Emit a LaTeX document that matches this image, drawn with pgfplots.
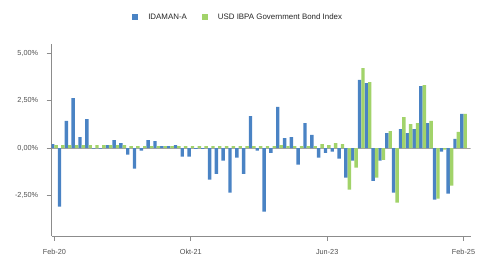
\documentclass[border=0pt]{standalone}
\usepackage{pgfplots}
\usepackage{pgfplotstable}
\pgfplotsset{compat=1.18}
\usepackage{fontspec}
\setmainfont{Liberation Sans}
\definecolor{cblue}{HTML}{4A83C4}
\definecolor{cgreen}{HTML}{A2D36A}
\definecolor{axgray}{HTML}{8C8C8C}
\definecolor{txtgray}{HTML}{505050}
\pgfplotstableread{
x b g
0 0.21 0.15
1 -3.10 0.15
2 1.43 0.15
3 2.64 0.15
4 0.58 0.15
5 1.53 0.15
6 -0.03 0.15
7 -0.03 0.15
8 0.16 0.15
9 0.42 0.15
10 0.26 0.15
11 -0.35 0.10
12 -1.09 0.10
13 -0.14 0.10
14 0.42 0.10
15 0.37 0.10
16 0.10 0.10
17 0.10 0.10
18 0.16 0.10
19 -0.46 0.10
20 -0.46 0.10
21 -0.04 0.10
22 -0.04 0.10
23 -1.67 0.10
24 -1.36 0.10
25 -0.67 0.10
26 -2.36 0.10
27 -0.51 0.10
28 -1.36 0.10
29 1.69 0.10
30 -0.14 0.10
31 -3.36 0.10
32 -0.25 0.10
33 2.17 0.16
34 0.53 0.10
35 0.58 0.10
36 -0.88 0.10
37 1.32 0.10
38 0.69 0.10
39 -0.51 0.21
40 -0.25 0.16
41 -0.19 0.26
42 -0.56 0.21
43 -1.57 -2.20
44 -0.67 -1.04
45 3.60 4.23
46 3.43 3.49
47 -1.73 -1.57
48 -0.67 -0.62
49 0.79 0.90
50 -2.36 -2.89
51 1.00 1.64
52 0.79 1.27
53 1.00 1.32
54 3.27 3.33
55 1.32 1.43
56 -2.73 -2.68
57 -0.19 -0.09
58 -2.41 -1.99
59 0.48 0.85
60 1.80 1.80
}\data
\begin{document}
\begin{tikzpicture}
\useasboundingbox (-51.7pt,-21pt) rectangle (431.3pt,236pt);
\begin{axis}[
  at={(0,0)}, anchor=south west,
  scale only axis, width=419pt, height=192pt,
  xmin=-0.4, xmax=61.05, ymin=-4.65, ymax=5.5,
  axis x line*=bottom, axis y line*=left,
  axis line style={axgray, line width=0.9pt},
  xtick={0,20,40,60}, xticklabels={Feb-20,Okt-21,Jun-23,Feb-25},
  ytick={-2.5,0,2.5,5}, yticklabels={{-2,50\%},{0,00\%},{2,50\%},{5,00\%}},
  tick align=outside, major tick length=5pt,
  tick style={axgray, line width=0.8pt},
  ticklabel style={font=\fontsize{7.3}{9}\selectfont, text=txtgray},
  yticklabel style={xshift=-5pt},
  xticklabel style={yshift=-4.5pt},
  legend style={at={(0.445,1.14)}, anchor=center, legend columns=2, draw=none, fill=none,
    font=\fontsize{7.9}{9}\selectfont, text=black!85,
    /tikz/every even column/.append style={column sep=13pt}},
]
\draw[axgray!80, line width=0.8pt] (axis cs:-0.4,0) -- (axis cs:61.05,0);
\addplot[ybar, bar width=0.5, bar shift=-0.25, fill=cblue, draw=none,
  legend image code/.code={\fill[cblue] (0pt,-3pt) rectangle (6pt,3pt); \path (14pt,0pt);}] table[x=x,y=b]{\data};
\addlegendentry{IDAMAN-A}
\addplot[ybar, bar width=0.5, bar shift=0.25, fill=cgreen, draw=none,
  legend image code/.code={\fill[cgreen] (0pt,-3pt) rectangle (6pt,3pt); \path (14pt,0pt);}] table[x=x,y=g]{\data};
\addlegendentry{USD IBPA Government Bond Index}
\end{axis}
\end{tikzpicture}
\end{document}
